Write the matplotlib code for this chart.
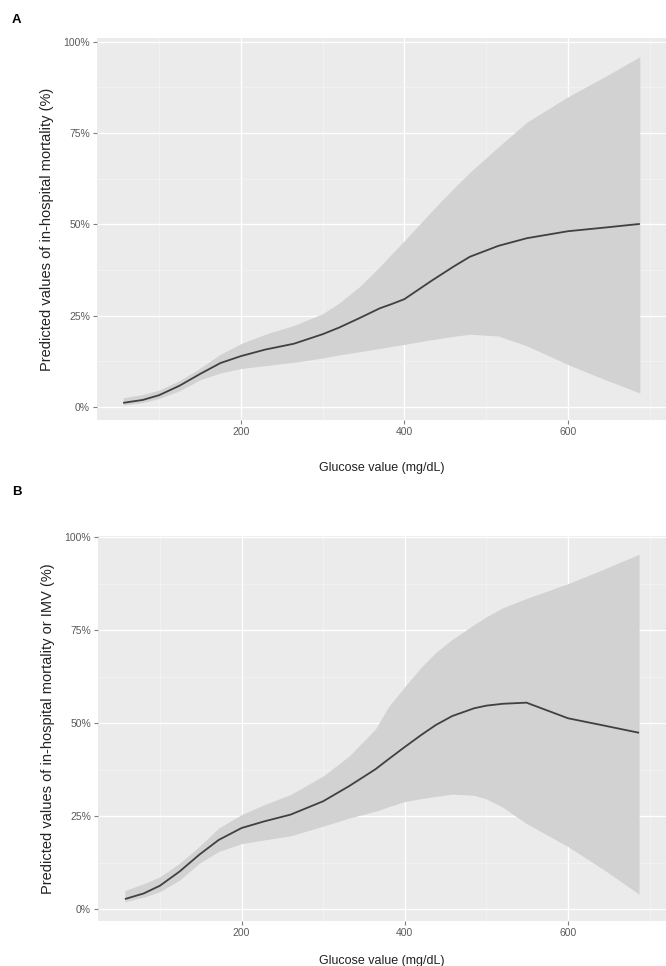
import matplotlib.pyplot as plt
import numpy as np

plt.rcParams['font.family'] = ['Liberation Sans', 'DejaVu Sans']

# panel A: in-hospital mortality
glucose_a = [56, 80, 100, 125, 150, 175, 200, 230, 265, 300, 320, 345, 370, 385, 400,
             433, 460, 480, 515, 550, 600, 645, 688]
pred_a = [1.1, 1.9, 3.2, 5.8, 9.0, 12.0, 13.9, 15.7, 17.3, 19.9, 21.7, 24.3, 27.0, 28.2, 29.5,
          34.5, 38.4, 41.1, 44.1, 46.2, 48.1, 49.1, 50.1]
upper_a = [2.5, 3.4, 4.6, 7.2, 10.6, 14.4, 17.3, 19.9, 22.3, 25.5, 28.4, 32.9, 38.4, 42.0, 45.5,
           53.5, 59.8, 64.2, 71.2, 78.0, 84.9, 90.4, 95.9]
lower_a = [0.5, 1.2, 2.3, 4.4, 7.4, 9.3, 10.5, 11.3, 12.2, 13.4, 14.2, 15.1, 16.0, 16.6, 17.1,
           18.4, 19.3, 19.9, 19.4, 16.7, 11.6, 7.5, 3.8]

# panel B: in-hospital mortality or IMV
glucose_b = [57, 80, 100, 124, 148, 172, 200, 228, 260, 300, 332, 364, 380, 400, 420, 438,
             458, 485, 500, 520, 549, 600, 645, 687]
pred_b = [2.7, 4.2, 6.3, 10.1, 14.6, 18.6, 21.8, 23.6, 25.4, 29.0, 33.1, 37.6, 40.3, 43.6, 46.8, 49.5,
          51.9, 54.0, 54.7, 55.2, 55.5, 51.3, 49.3, 47.4]
upper_b = [5.0, 6.8, 8.7, 12.3, 16.8, 21.8, 25.4, 28.1, 30.8, 35.8, 41.2, 48.4, 54.4, 59.8, 65.0, 69.0,
           72.5, 76.5, 78.6, 81.0, 83.5, 87.5, 91.5, 95.4]
lower_b = [2.0, 3.2, 4.7, 7.8, 12.3, 15.5, 17.6, 18.6, 19.7, 22.3, 24.5, 26.3, 27.5, 28.9, 29.7, 30.3,
           30.9, 30.6, 29.6, 27.4, 23.0, 16.8, 10.4, 4.0]

x_ticks = [200, 400, 600]
y_ticks = [0, 25, 50, 75, 100]
y_labels = ["0%", "25%", "50%", "75%", "100%"]

fig = plt.figure(figsize=(6.66, 9.66), dpi=100)
ax_a = fig.add_axes([0.1456, 0.5652, 0.8544, 0.3954])
ax_b = fig.add_axes([0.1471, 0.0466, 0.8529, 0.3985])


def gg_panel(ax, x, y, lo, hi, ylab, ylim, xpad):
    ax.set_facecolor("#EBEBEB")
    ax.fill_between(x, lo, hi, color="#D2D2D2", lw=0, zorder=2)
    ax.plot(x, y, color="#404040", lw=1.3, zorder=3, solid_capstyle="butt")
    ax.set_xlim(24, 720)
    ax.set_ylim(*ylim)
    ax.set_xticks(x_ticks)
    ax.set_xticks([100, 300, 500, 700], minor=True)
    ax.set_yticks(y_ticks)
    ax.set_yticklabels(y_labels)
    ax.set_yticks([12.5, 37.5, 62.5, 87.5], minor=True)
    ax.grid(which="major", color="white", lw=1.0, zorder=1)
    ax.grid(which="minor", color="#F5F5F5", lw=0.5, zorder=1)
    ax.set_axisbelow(True)
    for s in ax.spines.values():
        s.set_visible(False)
    ax.tick_params(which="major", length=3, color="#7F7F7F", labelsize=7.5,
                   labelcolor="#5A5A5A", pad=2)
    ax.tick_params(which="minor", length=0)
    ax.set_xlabel("Glucose value (mg/dL)", fontsize=9, color="#222222", labelpad=xpad)
    ax.set_ylabel(ylab, fontsize=10.5, color="#222222", labelpad=7)


gg_panel(ax_a, glucose_a, pred_a, lower_a, upper_a,
         "Predicted values of in-hospital mortality (%)", (-3.6, 101), 18)
gg_panel(ax_b, glucose_b, pred_b, lower_b, upper_b,
         "Predicted values of in-hospital mortality or IMV (%)", (-3.2, 100.3), 12)

fig.text(12 / 666, 1 - 20 / 966, "A", fontsize=9.5, fontweight="bold", va="center")
fig.text(12 / 666, 1 - 492 / 966, "B", fontsize=9.5, fontweight="bold", va="center")

fig.savefig("out.png", dpi=100, facecolor="white")
